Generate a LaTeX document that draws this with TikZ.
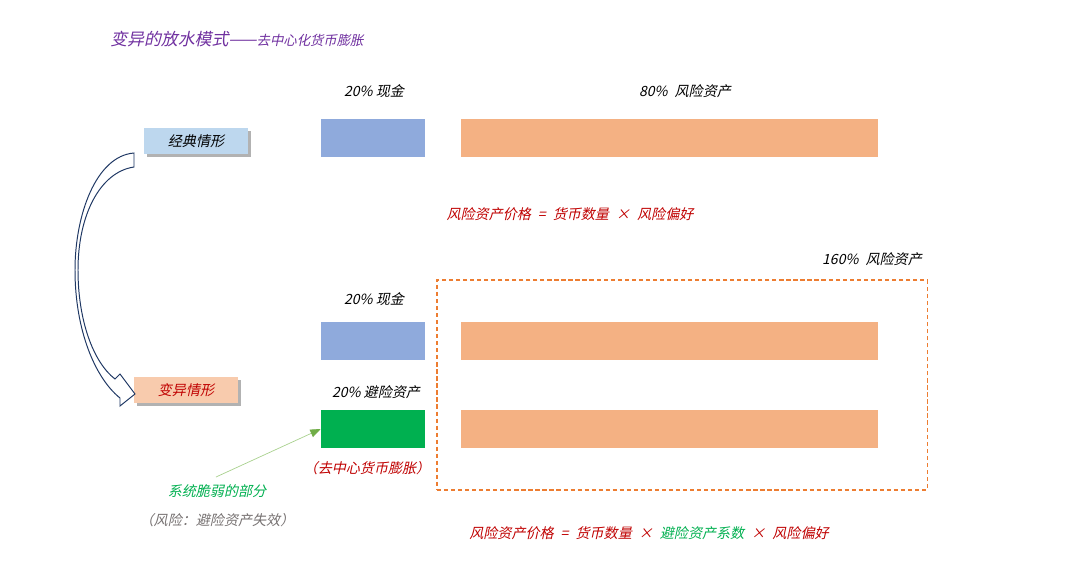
\documentclass[tikz,border=0pt]{standalone}
\usepackage{fontspec}
\newfontfamily\kai[FakeSlant=0.22]{Noto Sans CJK SC}
\usetikzlibrary{arrows.meta, positioning, shadows}
\definecolor{cClassicFill}{RGB}{189, 215, 238}
\definecolor{cVariantFill}{RGB}{248, 203, 173}
\definecolor{cCashFill}{RGB}{143, 170, 220}
\definecolor{cRiskFill}{RGB}{244, 177, 131}
\definecolor{cHedgeFill}{RGB}{0, 176, 80}
\definecolor{cFrameDraw}{RGB}{237, 125, 49}
\definecolor{cCurveDraw}{RGB}{31, 56, 100}
\definecolor{cTitle}{RGB}{112, 48, 160}
\definecolor{cRedText}{RGB}{192, 0, 0}
\definecolor{cGreenText}{RGB}{0, 176, 80}
\definecolor{cGrayText}{RGB}{118, 113, 113}
\definecolor{cPointerLine}{RGB}{169, 209, 142}
\definecolor{cPointerTip}{RGB}{112, 173, 71}
\tikzset{
    x=0.025cm, y=-0.025cm,
    font=\kai\fontsize{10}{12}\selectfont,
    % --- 情形标签 ---
    caseBox/.style={
        rectangle, inner sep=0pt,
        minimum width=2.6cm, minimum height=0.65cm,
        drop shadow={fill=black, opacity=0.3, shadow xshift=0.08cm, shadow yshift=-0.08cm}
    },
    classicBox/.style={caseBox, fill=cClassicFill},
    variantBox/.style={caseBox, fill=cVariantFill, text=cRedText},
    % --- 资产条 ---
    barBase/.style={rectangle, inner sep=0pt, minimum height=0.95cm},
    cashBar/.style={barBase, fill=cCashFill, minimum width=2.6cm},
    hedgeBar/.style={barBase, fill=cHedgeFill, minimum width=2.6cm},
    riskBar/.style={barBase, fill=cRiskFill, minimum width=10.425cm},
    % --- 文字 ---
    barLabel/.style={inner sep=1pt},
    redNote/.style={inner sep=1pt, text=cRedText},
    % --- 虚线框 ---
    riskFrame/.style={
        rectangle, draw=cFrameDraw, line width=0.8pt,
        dash pattern=on 3pt off 2pt,
        minimum width=12.25cm, minimum height=5.25cm
    },
    % --- 连线 ---
    pointer/.style={
        draw=cPointerLine, line width=0.5pt,
        -{Triangle[length=2.6mm, width=2mm, color=cPointerTip]}
    },
    bendArrow/.style={draw=cCurveDraw, fill=white, line width=0.7pt, line join=miter}
}

\begin{document}
\begin{tikzpicture}

    \fill[white] (0,0) rectangle (1080,581);
    \useasboundingbox (0,0) rectangle (1080,581);

    % =========================================================
    % 1. 标题
    % =========================================================
    \node [anchor=west, text=cTitle, inner sep=0pt] (title) at (110,39)
        {{\fontsize{12}{14}\selectfont 变异的放水模式——}{\fontsize{9.5}{12}\selectfont 去中心化货币膨胀}};

    % =========================================================
    % 2. 经典情形
    % =========================================================
    \node [classicBox] (classic) at (196,141) {经典情形};

    \node [cashBar] (cashBarA) at (373,138) {};
    \node [riskBar, right=0.875cm of cashBarA] (riskBarA) {};

    \node [barLabel] (cashLabelA) at (374,91) {20\% 现金};
    \node [barLabel] (riskLabelA) at (685,91) {80\%\enspace 风险资产};

    % 公式
    \node [redNote] (formulaA) at (570,214)
        {风险资产价格\enspace=\enspace 货币数量\enspace×\enspace 风险偏好};

    % =========================================================
    % 3. 变异情形
    % =========================================================
    \node [variantBox] (variant) at (186,390) {变异情形};

    \node [cashBar] (cashBarB) at (373,341) {};
    \node [riskBar, right=0.875cm of cashBarB] (riskBarB) {};

    \node [hedgeBar] (hedgeBar) at (373,429) {};
    \node [riskBar, right=0.875cm of hedgeBar] (riskBarC) {};

    \node [barLabel] (cashLabelB) at (374,299) {20\% 现金};
    \node [barLabel] (hedgeLabel) at (376,392) {20\% 避险资产};
    \node [barLabel] (riskLabelB) at (872,259) {160\%\enspace 风险资产};
    \node [redNote] (decentNote) at (367,468) {（去中心货币膨胀）};

    % 160% 风险资产
    \node [riskFrame] (frame) at (682,385) {};

    % 脆弱部分
    \node [inner sep=1pt, text=cGreenText] (fragileNote) at (217,491) {系统脆弱的部分};
    \node [inner sep=1pt, text=cGrayText] (riskNote) at (217,520) {（风险：避险资产失效）};
    \coordinate (pointerTail) at (216,477);

    % 公式
    \node [redNote] (formulaB) at (649,533)
        {风险资产价格\enspace=\enspace 货币数量\enspace×\enspace \textcolor{cGreenText}{避险资产系数}\enspace×\enspace 风险偏好};

    % =========================================================
    % 4. 连线
    % =========================================================

    % 经典 -> 变异
    \draw [bendArrow] (134,153) .. controls (96,156) and (75,215) .. (75,270)
        .. controls (75,330) and (95,378) .. (120,398)
        -- (120,406) -- (135,394) -- (120,374) -- (115,379)
        .. controls (93,362) and (78,320) .. (78,270)
        .. controls (78,215) and (100,172) .. (134,167) -- cycle;

    % 指向避险资产
    \draw [pointer] (pointerTail) -- (hedgeBar.west);

\end{tikzpicture}
\end{document}
